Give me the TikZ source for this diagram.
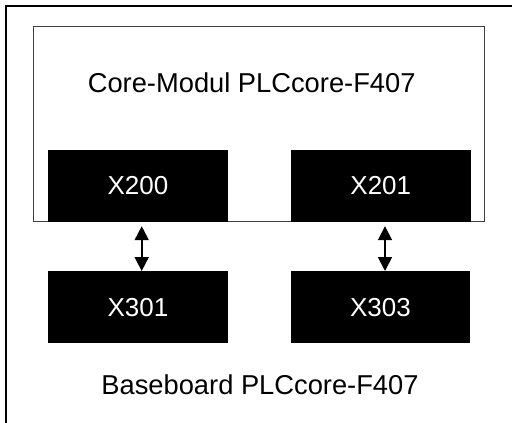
\documentclass[tikz,border=0pt]{standalone}
\usepackage{fontspec}
\setmainfont{Liberation Sans}
\usetikzlibrary{arrows.meta}

\begin{document}
\begin{tikzpicture}[x=1pt,y=-1pt,
                    boardBX/.style={rectangle,
                                    draw=black!75,
                                    line width=0.9pt,
                                    inner sep=0pt,
                                    minimum width=450.8pt,
                                    minimum height=195pt},
                    plugBX/.style={rectangle,
                                   fill=black,
                                   text=white,
                                   inner sep=0pt,
                                   minimum width=179.5pt,
                                   minimum height=72pt,
                                   font=\fontsize{26}{30}\selectfont},
                    titleTX/.style={inner sep=0pt,
                                    font=\fontsize{27.3}{32}\selectfont},
                    link/.style={{Triangle[length=14pt,width=14pt]}-{Triangle[length=14pt,width=14pt]},
                                 line width=1.8pt}]
        \useasboundingbox (0,0) rectangle (512,423);
        % frame
        \draw[line width=2pt] (512,6.3) -- (6.3,6.3) -- (6.3,423);
        \node[boardBX](core) at (258.9,124.2) {};
        \node[titleTX](coreTX) at (251.7,82.7)  {Core-Modul PLCcore-F407};
        \node[plugBX](X200) at (138,185.7)   {X200};
        \node[plugBX](X201) at (380.8,185.7) {X201};
        \node[plugBX](X301) at (138,307.2)   {X301};
        \node[plugBX](X303) at (380.5,307.2) {X303};
        \node[titleTX](baseTX) at (260,385)  {Baseboard PLCcore-F407};
        \draw[link] ([xshift=3.7pt,yshift=-4.3pt]X200.south) -- ([xshift=3.7pt]X301.north);
        \draw[link] ([xshift=4.2pt,yshift=-4.3pt]X201.south) -- ([xshift=4.5pt]X303.north);
\end{tikzpicture}
\end{document}
